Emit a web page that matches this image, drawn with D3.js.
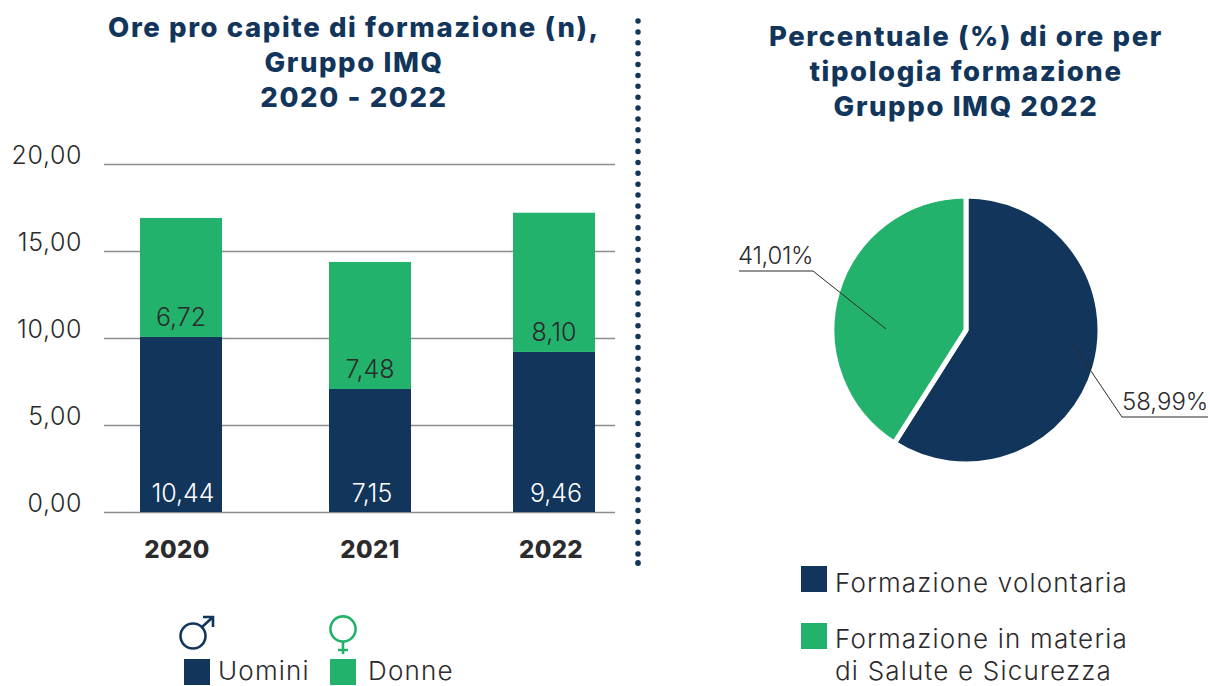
<!DOCTYPE html>
<html><head><meta charset="utf-8">
<script src="https://cdn.jsdelivr.net/npm/d3@7/dist/d3.min.js"></script>
<style>html,body{margin:0;padding:0;background:#fff}svg{display:block}text{font-family:Inter,"Noto Sans",sans-serif}</style>
</head><body><svg id="c" width="1210" height="686"></svg>
<script>
const years = ["2020","2021","2022"];
const uominiHeights = [10.06,7.07,9.2];
const donneHeights = [6.84,7.3,8.0];
const uominiLabels = ["10,44","7,15","9,46"];
const donneLabels = ["6,72","7,48","8,10"];
const yTicks = [0,5,10,15,20];
const pieNames = ["Formazione volontaria","Formazione in materia di Salute e Sicurezza"];
const pieValues = [58.99,41.01];
const pieLabels = ["58,99%","41,01%"];
const NAVY="#12355b", GREEN="#23b26b", INK="#2b2a2c", GRID="#8c8c8c";
const svg=d3.select("#c");
const fmt=d=>d.toFixed(2).replace(".",",");

function title(lines,cx,y0,dy){
  const t=svg.append("text").attr("text-anchor","middle").attr("fill",NAVY)
    .attr("font-weight",800).attr("font-size",27.5).attr("letter-spacing",1.6);
  lines.forEach((l,i)=>t.append("tspan").attr("x",cx).attr("y",y0+i*dy).text(l));
}
title(["Ore pro capite di formazione (n),","Gruppo IMQ","2020 - 2022"],354,37,35);
title(["Percentuale (%) di ore per","tipologia formazione","Gruppo IMQ 2022"],966,46,35);

// bars
const y=d3.scaleLinear().domain([0,20]).range([512,164]);
const xCenters=d3.scaleOrdinal().domain(years).range([181,370,554]);
const yearCenters=d3.scaleOrdinal().domain(years).range([177,370,551]);
const barW=82;
const gy=svg.append("g").attr("transform","translate(104,0)")
  .call(d3.axisLeft(y).tickValues(yTicks).tickSize(-511).tickFormat(fmt));
gy.select(".domain").remove();
gy.selectAll("line").attr("stroke",GRID).attr("stroke-width",1.4);
gy.selectAll("text").attr("x",-22).attr("dy",null).attr("y",-0.5).attr("font-size",25).attr("font-weight",300)
  .attr("letter-spacing",0.6).attr("fill",INK).attr("text-anchor","end");

const rows=years.map((k,i)=>({k,u:uominiHeights[i],d:donneHeights[i],ul:uominiLabels[i],dl:donneLabels[i]}));
const g=svg.append("g");
g.selectAll(".u").data(rows).join("rect").attr("x",d=>xCenters(d.k)-barW/2).attr("width",barW)
  .attr("y",d=>y(d.u)).attr("height",d=>y(0)-y(d.u)).attr("fill",NAVY);
g.selectAll(".d").data(rows).join("rect").attr("x",d=>xCenters(d.k)-barW/2).attr("width",barW)
  .attr("y",d=>y(d.u+d.d)).attr("height",d=>y(d.u)-y(d.u+d.d)).attr("fill",GREEN);
g.selectAll(".ul").data(rows).join("text").attr("x",d=>xCenters(d.k)+2).attr("y",502)
  .attr("text-anchor","middle").attr("font-size",25).attr("font-weight",300).attr("fill","#fff").text(d=>d.ul);
g.selectAll(".dl").data(rows).join("text").attr("x",d=>xCenters(d.k)).attr("y",d=>y(d.u)-11)
  .attr("text-anchor","middle").attr("font-size",25).attr("font-weight",300).attr("fill",INK).text(d=>d.dl);
g.selectAll(".yr").data(rows).join("text").attr("x",d=>yearCenters(d.k)).attr("y",558)
  .attr("text-anchor","middle").attr("font-size",24).attr("font-weight",800).attr("letter-spacing",0.4).attr("fill",INK).text(d=>d.k);

// separator
svg.append("line").attr("x1",638).attr("x2",638).attr("y1",21).attr("y2",555)
  .attr("stroke",NAVY).attr("stroke-width",5.5).attr("stroke-linecap","round").attr("stroke-dasharray","0 10.88");
svg.append("circle").attr("cx",638).attr("cy",563).attr("r",2.9).attr("fill",NAVY);

// pie
const cx=966,cy=330;
const pie=d3.pie().sort(null)(pieValues);
const arc=d3.arc().innerRadius(0).outerRadius(134);
const pg=svg.append("g").attr("transform",`translate(${cx},${cy})`);
pg.selectAll("path").data(pie).join("path").attr("d",arc)
  .attr("fill",(d,i)=>[NAVY,GREEN][i]).attr("stroke","#fff").attr("stroke-width",5);
const leaders=[
  {pts:[[106,13],[156,87],[242,87]],tx:156,ty:80,label:pieLabels[0],ls:0},
  {pts:[[-80,-1],[-153,-59],[-227,-59]],tx:-228,ty:-66,label:pieLabels[1],ls:-0.3}];
leaders.forEach(l=>{
  pg.append("path").attr("d",d3.line()(l.pts)).attr("fill","none").attr("stroke",INK).attr("stroke-width",1);
  pg.append("text").attr("x",l.tx).attr("y",l.ty).attr("font-size",24).attr("font-weight",300)
    .attr("letter-spacing",l.ls).attr("fill",INK).text(l.label);
});

// legends
function swatch(x,yy,c){svg.append("rect").attr("x",x).attr("y",yy).attr("width",26).attr("height",26).attr("fill",c);}
function label(x,yy,t){svg.append("text").attr("x",x).attr("y",yy).attr("font-size",26).attr("font-weight",300)
  .attr("letter-spacing",1.2).attr("fill",INK).text(t);}
swatch(801,566,NAVY);swatch(801,623,GREEN);
label(835,592,"Formazione volontaria");
label(835,648,"Formazione in materia");
label(835,680,"di Salute e Sicurezza");
swatch(184,659,NAVY);swatch(330,659,GREEN);
label(218,680,"Uomini");label(368,680,"Donne");
// gender icons
const m=svg.append("g").attr("fill","none").attr("stroke",NAVY).attr("stroke-width",2.6);
m.append("circle").attr("cx",193).attr("cy",636).attr("r",12.5);
m.append("path").attr("d","M202,627L213,617M203,617H213V627");
const f=svg.append("g").attr("fill","none").attr("stroke",GREEN).attr("stroke-width",2.6);
f.append("circle").attr("cx",343).attr("cy",629).attr("r",12.6);
f.append("path").attr("d","M343,642V654M338,650H348");
</script></body></html>
